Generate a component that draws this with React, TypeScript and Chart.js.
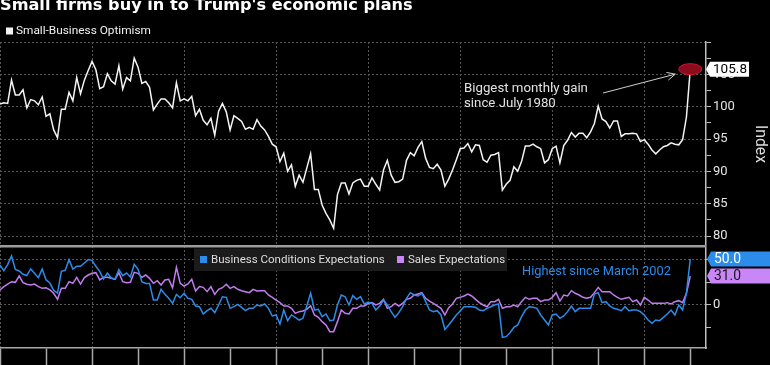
import React, { useEffect, useRef } from 'react';
import { Chart, registerables } from 'chart.js';

Chart.register(...registerables);

// ---------- text ----------
const TITLE = "Small firms buy in to Trump's economic plans";
const OPTIMISM_LABEL = 'Small-Business Optimism';
const BUSINESS_LABEL = 'Business Conditions Expectations';
const SALES_LABEL = 'Sales Expectations';
const AXIS_TITLE = 'Index';
const NOTE_GAIN = ['Biggest monthly gain', 'since July 1980'];
const NOTE_HIGH = 'Highest since March 2002';

// ---------- data (monthly, Jan 2002 .. Dec 2016) ----------
const optimism = [
  100.4, 100.6, 100.5, 104.1, 101.8, 101.8, 102.6, 99.8, 101.1, 100.9,
  100.3, 101.5, 98.5, 98.9, 96.4, 95.2, 99.6, 99.6, 102.2, 100.9,
  104.5, 102.0, 104.1, 105.6, 107.0, 105.7, 102.8, 103.1, 105.1, 104.0,
  103.5, 106.3, 102.7, 104.5, 104.0, 107.5, 106.1, 103.6, 103.9, 103.0,
  99.5, 100.4, 101.2, 101.2, 100.6, 99.8, 103.7, 100.9, 101.2, 100.9,
  101.6, 98.6, 99.6, 97.9, 97.2, 98.2, 95.6, 99.3, 100.5, 99.2,
  96.4, 98.6, 98.2, 97.7, 96.5, 96.8, 96.5, 98.0,
  97.0, 96.4, 95.4, 94.2, 93.8,
  91.5, 92.8, 90.0, 91.0, 87.7, 89.4, 88.3, 90.5, 92.7, 87.2,
  87.2, 84.8, 83.5, 82.5, 81.2, 86.4, 88.2, 88.2, 86.5, 88.2,
  88.6, 88.8, 87.7, 87.7, 89.0, 88.0, 87.1, 90.2, 91.7, 89.4,
  88.3, 88.4, 88.8, 91.7, 92.9, 92.4, 93.7, 94.6, 92.0, 90.6,
  90.4, 91.1, 90.2, 87.7, 88.8, 90.2, 91.8, 93.5, 93.6, 94.3,
  93.0, 94.1, 94.0, 91.8, 91.4, 92.5, 92.6, 92.9, 87.1, 88.0,
  88.6,
  90.7, 90.0, 91.5, 93.9, 93.9, 94.2, 93.8, 93.5, 91.3, 91.8,
  93.5, 93.9, 91.3, 94.0, 94.8, 96.0, 95.3, 95.9, 95.9, 95.2,
  96.1, 97.4, 100.1, 98.1, 97.7, 96.7, 97.8, 97.8, 95.4, 95.8,
  95.8, 95.9, 95.8, 94.6, 94.9, 94.2, 93.3, 92.7, 93.3, 93.8,
  94.0, 94.4, 94.2, 94.1, 94.9, 98.4, 105.8,
];

const businessConditions = [
  43.3, 37.0, 43.7, 53.3, 38.5, 36.7, 33.0, 31.6, 38.9, 34.1,
  29.3, 38.9, 27.0, 23.3, 15.1, 12.2, 36.3, 37.4, 49.3, 38.9,
  41.9, 41.9, 45.6, 49.3, 48.5, 41.9, 36.3, 27.8, 34.4, 28.9,
  27.8, 38.1, 31.5, 34.4, 30.0, 44.1, 38.5, 24.8, 22.9, 22.9,
  4.4, 4.4, 16.3, 10.7, 6.3, 0.7, 10.7, 7.0, 11.9, 6.3,
  5.2, -2.2, -3.0, -11.1, -7.4, -4.8, -9.6, -1.1, 8.1, 7.4,
  -4.8, -3.0, -0.4, -3.7, -7.4, -4.8, -4.8, -1.1,
  -2.2, 0, -4.8, -13.3, -12.2, -22.2, -6.7, -18.5, -12.2, -14.8,
  -17.8, -15.9, -2.2, 11.9, -6.7, -5.9, -14.1, -11.1, -18.5, -17.8,
  -1.1, 10.0, 8.1, -1.1, 9.3, 5.2, 8.1, 0, 2.2, 0.7,
  -6.7, -2.2, 4.4, -1.1, -8.5, -14.8, -9.6, -3.0, 6.3, 12.6,
  10.0, 8.9, 11.9, 2.6, -6.7, -8.5, -7.4, -12.2, -28.2, -23.3,
  -17.8, -12.2, -7.8, -3.0, -3.0, -3.0, -3.7, -6.7, -7.4, -4.8,
  -3.0, -1.1, 0, -37.0, -36.3, -31.9,
  -25.9, -23.3, -14.1, -6.7, -3.0, -3.7, -4.8, -12.2, -17.8, -23.3,
  -12.2, -11.1, -15.9, -13.3, -8.5, -2.2, -8.5, -4.8, -4.8, -4.8,
  -4.8, 11.1, 12.6, 1.5, 2.6, -2.2, -4.8, -5.9, -7.4, -3.0,
  -7.4, -6.7, -6.7, -8.5, -12.2, -17.8, -21.5, -17.8, -18.5, -14.8,
  -11.1, -6.7, -12.2, -1.1, -6.7, 12.0, 50.0,
];

const salesExpectations = [
  15.6, 19.3, 22.2, 24.8, 24.1, 31.1, 23.7, 21.9, 21.1, 22.2,
  19.3, 17.4, 18.1, 15.6, 11.9, 5.2, 17.4, 17.4, 24.8, 23.0,
  29.6, 22.2, 29.3, 32.2, 34.1, 34.8, 26.7, 29.6, 29.6, 28.5,
  27.4, 34.8, 24.8, 23.7, 24.1, 35.2, 34.1, 29.6, 32.2, 28.5,
  23.0, 25.9, 21.1, 26.7, 27.4, 18.1, 40.7, 23.0, 20.0, 22.2,
  27.4, 14.4, 19.3, 18.5, 13.7, 19.3, 10.7, 16.3, 18.1, 21.9,
  17.4, 19.3, 16.3, 14.8, 13.7, 12.6, 16.3, 14.4,
  14.8, 14.8, 10.0, 7.4, 4.4, 1.5, -2.2, -2.2, -4.8, -10.4,
  -8.5, -7.8, -5.9, -1.9, -12.2, -14.8, -19.6, -23.3, -30.7, -30.7,
  -19.6, -6.7, -10.4, -11.1, -4.8, -4.8, -2.2, -2.2, 0.7, 1.5,
  -1.1, 0.7, 5.2, -4.8, -3.0, 0.7, -2.2, 0.7, 5.2, 6.3,
  10.0, 11.1, 12.6, 6.3, 3.3, 0.7, -2.2, -4.8, -12.2, -4.1,
  0, 6.3, 7.4, 8.9, 11.1, 8.9, 5.2, 1.5, -1.1, -3.0,
  2.6, 2.6, 5.2, -4.8, -3.0, -3.0,
  -1.1, -3.0, 2.6, 7.4, 5.2, 6.3, 6.3, 2.6, 4.4, 4.4,
  7.4, 12.6, 3.3, 10.0, 8.9, 14.8, 11.9, 10.0, 7.4, 6.3,
  7.4, 12.6, 18.5, 13.7, 13.7, 13.7, 10.0, 7.4, 5.2, 6.3,
  7.4, 2.6, 4.4, -1.1, 7.4, 4.4, 0.7, 0.7, 0.7, 0.7,
  1.5, 0, 2.6, 3.7, 1.5, 11.9, 31.0,
];

// ---------- ticks ----------
const YEAR_TICKS = [0, 12, 24, 36, 48, 60, 72, 84, 96, 108, 120, 132, 144, 156, 168, 180]; // January of each year, month index
const TOP_TICKS = [80, 82.5, 85, 87.5, 90, 92.5, 95, 97.5, 100, 102.5, 105, 107.5, 110];
const TOP_LABELS = [80, 85, 90, 95, 100, 105];
const BOTTOM_TICKS = [-25, 0, 25, 50];
const BOTTOM_LABELS = [0, 50];

// ---------- style ----------
const FONT = "Roboto, 'DejaVu Sans', sans-serif";
const TITLE_FONT = "'DejaVu Sans', sans-serif";
const GRID = '#575757';
const AXIS = '#a8a8a8';
const TICK = '#bdbdbd';
const TICK_TEXT = '#e4e4e4';
const WHITE_LINE = '#f4f4f4';
const BLUE = '#2b8cea';
const PURPLE = '#c27cf0';
const PURPLE_TAG = '#c886f6';

function fitFont(ctx: CanvasRenderingContext2D, text: string, width: number, weight: string, family: string = FONT) {
  ctx.font = `${weight} 20px ${family}`;
  const w = ctx.measureText(text).width;
  const size = (20 * width) / w;
  return `${weight} ${size.toFixed(2)}px ${family}`;
}

function valueTag(ctx: CanvasRenderingContext2D, y: number, text: string, bg: string, fg: string, left: number, right: number, textWidth: number) {
  const h = 15;
  ctx.fillStyle = bg;
  ctx.beginPath();
  ctx.moveTo(left, y);
  ctx.lineTo(left + 4, y - h / 2);
  ctx.lineTo(right, y - h / 2);
  ctx.lineTo(right, y + h / 2);
  ctx.lineTo(left + 4, y + h / 2);
  ctx.closePath();
  ctx.fill();
  ctx.fillStyle = fg;
  ctx.font = fitFont(ctx, text, textWidth, 'normal');
  ctx.textAlign = 'left';
  ctx.textBaseline = 'middle';
  ctx.fillText(text, left + 7, y + 0.5);
}

const overlay = {
  id: 'overlay',
  afterDraw(chart: any) {
    const { ctx, scales, chartArea } = chart;
    const xs = scales.x;
    const y1 = scales.y;
    const y2 = scales.y2;
    ctx.save();

    // title
    ctx.fillStyle = '#ffffff';
    ctx.textAlign = 'left';
    ctx.textBaseline = 'alphabetic';
    ctx.font = fitFont(ctx, TITLE, 413, 'bold', TITLE_FONT);
    ctx.fillText(TITLE, 0, 10);

    // top legend
    ctx.fillStyle = '#f2f2f2';
    ctx.fillRect(6, 27.5, 7, 7);
    ctx.font = fitFont(ctx, OPTIMISM_LABEL, 135, 'normal');
    ctx.textBaseline = 'middle';
    ctx.fillText(OPTIMISM_LABEL, 16, 31.5);

    // panel separator
    ctx.fillStyle = '#9c9c9c';
    ctx.fillRect(chartArea.left, 245, chartArea.right - chartArea.left, 2.5);

    // lower-panel axis ticks and labels (positions from the y2 scale)
    ctx.strokeStyle = TICK;
    ctx.lineWidth = 1;
    ctx.fillStyle = TICK_TEXT;
    ctx.font = `13px ${FONT}`;
    ctx.textAlign = 'left';
    ctx.textBaseline = 'middle';
    for (const v of BOTTOM_TICKS) {
      const ty = Math.round(y2.getPixelForValue(v)) + 0.5;
      ctx.beginPath();
      ctx.moveTo(chartArea.right, ty);
      ctx.lineTo(chartArea.right + 5, ty);
      ctx.stroke();
      if (BOTTOM_LABELS.includes(v)) ctx.fillText(String(v), chartArea.right + 7, ty);
    }

    // axis title
    ctx.save();
    ctx.translate(760, 144);
    ctx.rotate(Math.PI / 2);
    ctx.textAlign = 'center';
    ctx.textBaseline = 'middle';
    ctx.fillStyle = '#dcdcdc';
    ctx.font = fitFont(ctx, AXIS_TITLE, 38, 'normal');
    ctx.fillText(AXIS_TITLE, 0, 0);
    ctx.restore();

    // highlighted last point
    const last = optimism.length - 1;
    const px = xs.getPixelForValue(last);
    const py = y1.getPixelForValue(optimism[last]);
    ctx.beginPath();
    ctx.ellipse(px, py, 11.5, 5.5, 0, 0, Math.PI * 2);
    ctx.fillStyle = '#8a0c1d';
    ctx.fill();
    ctx.strokeStyle = '#d2142e';
    ctx.lineWidth = 1;
    ctx.stroke();

    // annotation arrow
    const tipX = px - 15;
    const tipY = py + 5;
    const tailX = 603;
    const tailY = 93;
    ctx.strokeStyle = '#cfcfcf';
    ctx.lineWidth = 1;
    ctx.beginPath();
    ctx.moveTo(tailX, tailY);
    ctx.lineTo(tipX, tipY);
    const ang = Math.atan2(tipY - tailY, tipX - tailX);
    const hl = 9;
    ctx.moveTo(tipX - hl * Math.cos(ang - 0.45), tipY - hl * Math.sin(ang - 0.45));
    ctx.lineTo(tipX, tipY);
    ctx.lineTo(tipX - hl * Math.cos(ang + 0.45), tipY - hl * Math.sin(ang + 0.45));
    ctx.stroke();

    // annotation text
    ctx.fillStyle = '#e2e2e2';
    ctx.textAlign = 'left';
    ctx.textBaseline = 'middle';
    ctx.font = fitFont(ctx, NOTE_GAIN[0], 124, 'normal');
    ctx.fillText(NOTE_GAIN[0], 464, 89);
    ctx.fillText(NOTE_GAIN[1], 464, 104);

    // bottom legend
    ctx.fillStyle = '#1b1b1b';
    ctx.fillRect(194, 248.5, 313, 22.5);
    ctx.fillStyle = BLUE;
    ctx.fillRect(200, 256, 7, 7);
    ctx.fillStyle = PURPLE_TAG;
    ctx.fillRect(397, 256, 7, 7);
    ctx.fillStyle = '#dedede';
    ctx.font = fitFont(ctx, BUSINESS_LABEL, 174, 'normal');
    ctx.fillText(BUSINESS_LABEL, 211, 260);
    ctx.fillText(SALES_LABEL, 408, 260);

    // bottom note
    ctx.fillStyle = BLUE;
    ctx.font = fitFont(ctx, NOTE_HIGH, 149, 'normal');
    ctx.fillText(NOTE_HIGH, 522, 272);

    // last value tags
    const bLast = businessConditions[businessConditions.length - 1];
    const sLast = salesExpectations[salesExpectations.length - 1];
    valueTag(ctx, py, optimism[last].toFixed(1), '#ffffff', '#000000', 706, 749, 34);
    valueTag(ctx, y2.getPixelForValue(bLast), bLast.toFixed(1), BLUE, '#ffffff', 707, 772, 27);
    valueTag(ctx, y2.getPixelForValue(sLast), sLast.toFixed(1), PURPLE_TAG, '#141414', 707, 772, 27);

    ctx.restore();
  },
};

const TOP_PX_PER_UNIT = 194 / 30; // 80 -> 110 over 194px
const BOTTOM_PX_PER_UNIT = 0.9;
const AREA_H = 306;

export default function App() {
  const ref = useRef<HTMLCanvasElement>(null);

  useEffect(() => {
    const canvas = ref.current;
    if (!canvas) return;
    const toPts = (arr: number[]) => arr.map((v, i) => ({ x: i, y: v }));
    const tickFont = { family: FONT, size: 13 };

    const chart = new Chart(canvas, {
      type: 'line',
      data: {
        datasets: [
          {
            label: OPTIMISM_LABEL,
            data: toPts(optimism),
            yAxisID: 'y',
            borderColor: WHITE_LINE,
            borderWidth: 1.5,
            pointRadius: 0,
            tension: 0,
          },
          {
            label: BUSINESS_LABEL,
            data: toPts(businessConditions),
            yAxisID: 'y2',
            borderColor: BLUE,
            borderWidth: 1.5,
            pointRadius: 0,
            tension: 0,
          },
          {
            label: SALES_LABEL,
            data: toPts(salesExpectations),
            yAxisID: 'y2',
            borderColor: PURPLE,
            borderWidth: 1.5,
            pointRadius: 0,
            tension: 0,
          },
        ],
      },
      options: {
        responsive: false,
        maintainAspectRatio: false,
        animation: false,
        devicePixelRatio: 1,
        layout: { padding: { top: 42, left: 0, right: 0, bottom: 0 } },
        plugins: {
          legend: { display: false },
          tooltip: { enabled: false },
          title: { display: false },
        },
        scales: {
          x: {
            type: 'linear',
            min: 0,
            max: 184.1,
            afterBuildTicks: (s: any) => {
              s.ticks = YEAR_TICKS.map((v) => ({ value: v }));
            },
            ticks: { display: false },
            grid: {
              color: (c: any) => (c.tick && c.tick.value % 24 === 0 ? GRID : 'transparent'),
              lineWidth: 1,
              drawTicks: true,
              tickLength: 20,
              tickColor: AXIS,
              tickWidth: 1.5,
            },
            border: { display: true, color: AXIS, width: 1.5, dash: [2, 2] },
            afterFit: (s: any) => {
              s.height = 17;
            },
          },
          y: {
            type: 'linear',
            position: 'right',
            max: 110,
            min: 110 - AREA_H / TOP_PX_PER_UNIT,
            afterBuildTicks: (s: any) => {
              s.ticks = TOP_TICKS.map((v) => ({ value: v }));
            },
            ticks: {
              autoSkip: false,
              color: TICK_TEXT,
              font: tickFont,
              padding: 2,
              callback: (v: any) => (TOP_LABELS.includes(Number(v)) ? String(v) : ''),
            },
            grid: {
              color: (c: any) => (c.tick && c.tick.value % 5 === 0 ? GRID : 'transparent'),
              lineWidth: 1,
              drawTicks: true,
              tickLength: 5,
              tickColor: TICK,
              tickWidth: 1,
            },
            border: { display: true, color: TICK, width: 1.5, dash: [2, 2] },
            afterFit: (s: any) => {
              s.width = 64;
            },
          },
          y2: {
            type: 'linear',
            position: 'right',
            min: -44 / BOTTOM_PX_PER_UNIT,
            max: (AREA_H - 44) / BOTTOM_PX_PER_UNIT,
            afterBuildTicks: (s: any) => {
              s.ticks = BOTTOM_TICKS.map((v) => ({ value: v }));
            },
            ticks: { display: false, autoSkip: false },
            grid: {
              color: (c: any) => (c.tick && c.tick.value % 50 === 0 ? GRID : 'transparent'),
              lineWidth: 1,
              drawTicks: false,
            },
            border: { display: false, dash: [2, 2] },
            afterFit: (s: any) => {
              s.width = 0;
            },
          },
        },
      } as any,
      plugins: [overlay],
    });

    return () => chart.destroy();
  }, []);

  return (
    <div
      style={{
        position: 'fixed',
        left: 0,
        top: 0,
        width: 770,
        height: 365,
        background: '#000000',
        overflow: 'hidden',
      }}
    >
      <canvas ref={ref} width={770} height={365} style={{ display: 'block', width: 770, height: 365 }} />
    </div>
  );
}
